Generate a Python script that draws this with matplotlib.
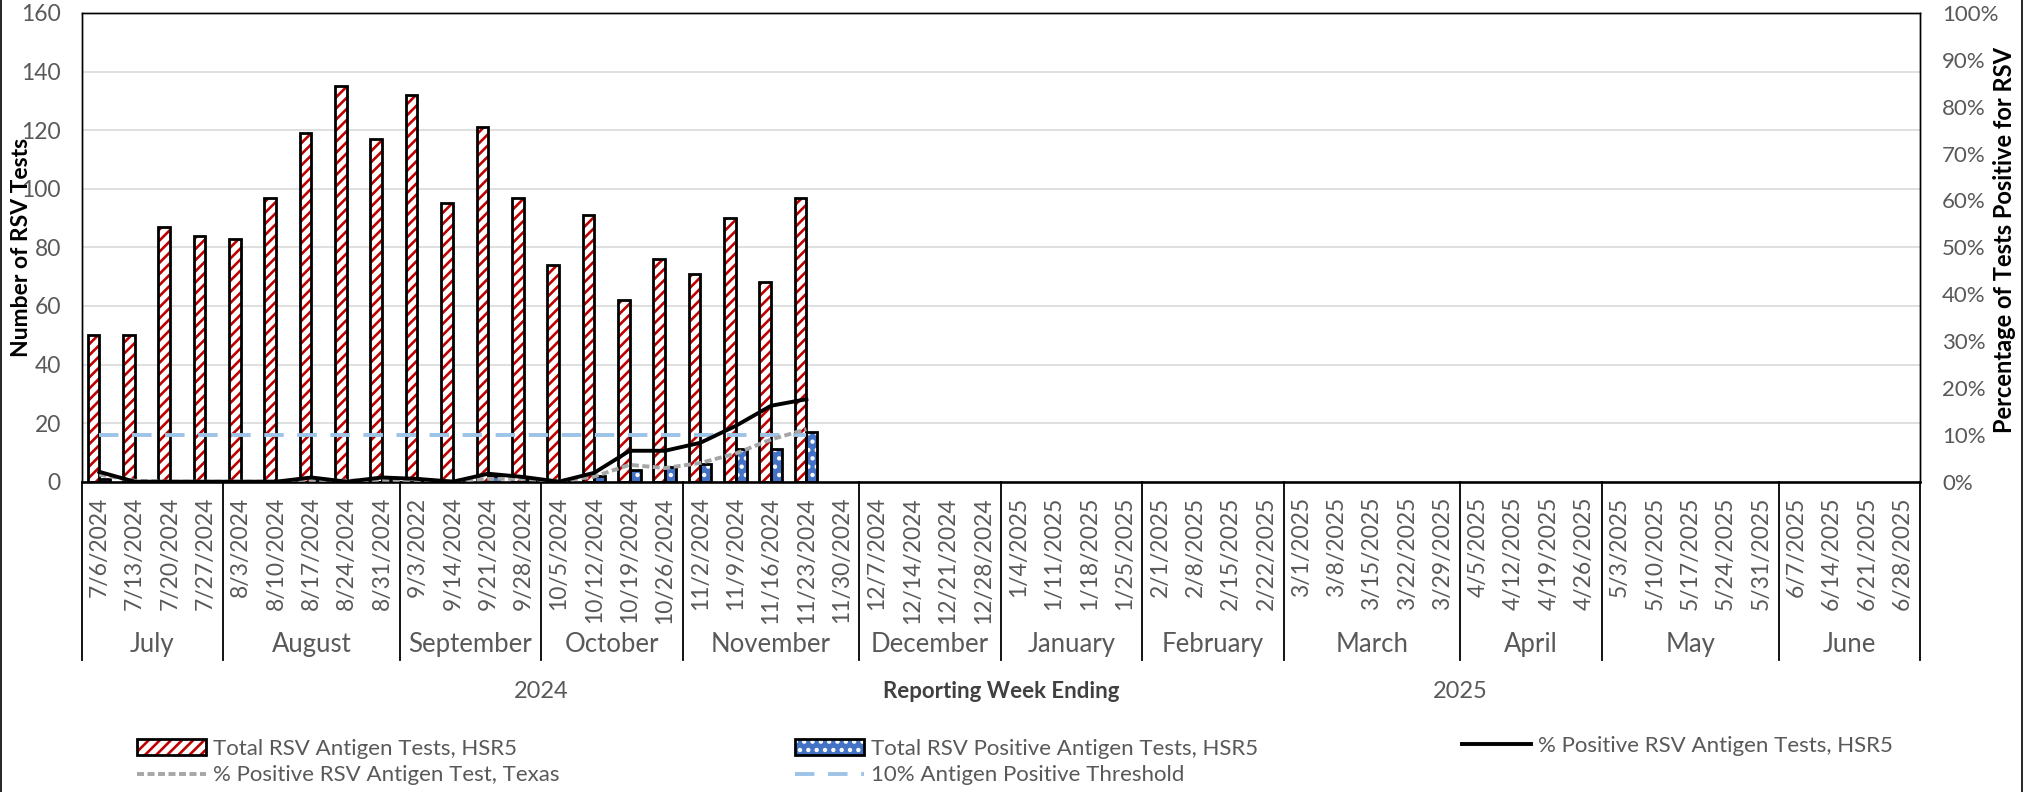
import matplotlib.pyplot as plt
from itertools import accumulate
from matplotlib.patches import Patch
from matplotlib.lines import Line2D
from matplotlib.legend_handler import HandlerTuple
from matplotlib.ticker import PercentFormatter, MultipleLocator

plt.rcParams['font.family'] = ['Lato', 'DejaVu Sans']
plt.rcParams['hatch.linewidth'] = 1.9

# ---------------------------------------------------------------- data
weeks = ['7/6/2024', '7/13/2024', '7/20/2024', '7/27/2024',
         '8/3/2024', '8/10/2024', '8/17/2024', '8/24/2024', '8/31/2024',
         '9/3/2022', '9/14/2024', '9/21/2024', '9/28/2024',
         '10/5/2024', '10/12/2024', '10/19/2024', '10/26/2024',
         '11/2/2024', '11/9/2024', '11/16/2024', '11/23/2024', '11/30/2024',
         '12/7/2024', '12/14/2024', '12/21/2024', '12/28/2024',
         '1/4/2025', '1/11/2025', '1/18/2025', '1/25/2025',
         '2/1/2025', '2/8/2025', '2/15/2025', '2/22/2025',
         '3/1/2025', '3/8/2025', '3/15/2025', '3/22/2025', '3/29/2025',
         '4/5/2025', '4/12/2025', '4/19/2025', '4/26/2025',
         '5/3/2025', '5/10/2025', '5/17/2025', '5/24/2025', '5/31/2025',
         '6/7/2025', '6/14/2025', '6/21/2025', '6/28/2025']
months = ['July', 'August', 'September', 'October', 'November', 'December',
          'January', 'February', 'March', 'April', 'May', 'June']
month_weeks = [4, 5, 4, 4, 5, 4, 4, 4, 5, 4, 5, 4]
years = ['2024', '2025']
year_weeks = [26, 26]

total_tests = [50, 50, 87, 84, 83, 97, 119, 135, 117, 132, 95, 121, 97,
               74, 91, 62, 76, 71, 90, 68, 97]
positive_tests = [1, 0, 0, 0, 0, 0, 1, 0, 1, 1, 0, 2, 1,
                  0, 2, 4, 5, 6, 11, 11, 17]
pct_hsr5 = [2.1, 0, 0, 0, 0, 0, 0.9, 0, 0.9, 0.6, 0, 1.7, 1.0,
            0, 1.9, 6.6, 6.6, 8.3, 11.9, 16.2, 17.6]
pct_texas = [1.5, 0.2, 0, 0, 0, 0, 0.3, 0.2, 0.4, 0.3, 0.1, 0.6, 0.6,
             0.1, 1.1, 3.6, 2.9, 4.0, 6.0, 9.0, 11.2]
threshold = [10, 10, 10, 10, 10, 10, 10, 10, 10, 10, 10, 10, 10,
             10, 10, 10, 10, 10, 10, 10, 10]

red = '#C00000'
blue = '#4472C4'
txt = '#595959'
lw_line = 2.8

# ---------------------------------------------------------------- figure
fig = plt.figure(figsize=(20.36, 7.92), dpi=100)
ax = fig.add_axes([0.0401, 0.3918, 0.9029, 0.5918])
ax2 = ax.twinx()

x_red = [i - 0.33 for i in range(len(total_tests))]
ax.bar(x_red, total_tests, width=0.33, align='edge', color='white',
       edgecolor=red, hatch='///', linewidth=0, zorder=2)
ax.bar(x_red, total_tests, width=0.33, align='edge', color='none',
       edgecolor='black', linewidth=2, zorder=3)
x_blue = list(range(len(positive_tests)))
ax.bar(x_blue, positive_tests, width=0.31, align='edge', color=blue,
       edgecolor='white', hatch='..', linewidth=0, zorder=2)
ax.bar(x_blue, positive_tests, width=0.31, align='edge', color='none',
       edgecolor='black', linewidth=2, zorder=3)

ax.set_xlim(-0.5, len(weeks) - 0.5)
ax.set_ylim(0, 160)
ax.yaxis.set_major_locator(MultipleLocator(20))
ax.yaxis.grid(True, color='#D9D9D9', linewidth=1.2)
ax.set_axisbelow(True)
ax.set_xticks(range(len(weeks)))
ax.set_xticklabels(weeks, rotation=90, fontsize=16.5, color=txt)
ax.tick_params(axis='x', length=0, pad=11)
ax.tick_params(axis='y', length=0, pad=15, labelsize=16.5, labelcolor=txt)
for s in ax.spines.values():
    s.set_linewidth(1.0)
ax.spines['bottom'].set_linewidth(1.8)

ax2.plot(range(len(threshold)), threshold, color='#9DC3E6', lw=lw_line,
         linestyle=(0, (5, 3.5)))
ax2.plot(range(len(pct_texas)), pct_texas, color='#A6A6A6', lw=lw_line,
         linestyle=(0, (1.8, 0.9)))
ax2.plot(range(len(pct_hsr5)), pct_hsr5, color='black', lw=lw_line)
ax2.set_ylim(0, 100)
ax2.yaxis.set_major_locator(MultipleLocator(10))
ax2.yaxis.set_major_formatter(PercentFormatter(decimals=0))
ax2.tick_params(length=0, pad=16, labelsize=16, labelcolor=txt)
for s in ax2.spines.values():
    s.set_linewidth(1.0)

# multi-level category axis
trans = ax.get_xaxis_transform()
bounds = [-0.5] + [b - 0.5 for b in accumulate(month_weeks)]
for b in bounds:
    ax.plot([b, b], [0, -0.38], transform=trans, color='black', lw=1.3,
            clip_on=False)
for m, a, b in zip(months, bounds[:-1], bounds[1:]):
    ax.text((a + b) / 2, -0.3475, m, transform=trans, ha='center',
            va='center', fontsize=18.5, color=txt)
ybounds = [-0.5] + [b - 0.5 for b in accumulate(year_weeks)]
for y, a, b in zip(years, ybounds[:-1], ybounds[1:]):
    ax.text((a + b) / 2, -0.448, y, transform=trans, ha='center',
            va='center', fontsize=17, color=txt)
ax.text(0.5, -0.448, 'Reporting Week Ending', transform=ax.transAxes,
        ha='center', va='center', fontsize=16, fontweight='bold',
        color='#404040')

fig.text(22 / 2036, 1 - 247 / 792, 'Number of RSV Tests', rotation=90,
         ha='center', va='center', fontsize=16.5, fontweight='bold')
fig.text(2005 / 2036, 1 - 240 / 792, 'Percentage of Tests Positive for RSV',
         rotation=90, ha='center', va='center', fontsize=17,
         fontweight='bold')

# legend
h_red = (Patch(facecolor='white', edgecolor=red, hatch='///', linewidth=0),
         Patch(facecolor='none', edgecolor='black', linewidth=2))
h_blue = (Patch(facecolor=blue, edgecolor='white', hatch='..', linewidth=0),
          Patch(facecolor='none', edgecolor='black', linewidth=2))
h_tx = Line2D([], [], color='#A6A6A6', lw=lw_line, linestyle=(0, (1.8, 0.9)))
h_thr = Line2D([], [], color='#9DC3E6', lw=lw_line, linestyle=(0, (5, 3.5)))
h_hsr = Line2D([], [], color='black', lw=lw_line)

leg_kw = dict(loc='center left', frameon=False, fontsize=16,
              handlelength=3.1, handletextpad=0.3, labelspacing=0.3,
              borderpad=0, borderaxespad=0, labelcolor=txt,
              handler_map={tuple: HandlerTuple(ndivide=1, pad=0)})
fig.legend([h_red, h_tx], ['Total RSV Antigen Tests, HSR5',
                           '% Positive RSV Antigen Test, Texas'],
           bbox_to_anchor=(137 / 2036, 1 - 762 / 792), **leg_kw)
fig.legend([h_blue, h_thr], ['Total RSV Positive Antigen Tests, HSR5',
                             '10% Antigen Positive Threshold'],
           bbox_to_anchor=(795 / 2036, 1 - 762 / 792), **leg_kw)
fig.legend([h_hsr], ['% Positive RSV Antigen Tests, HSR5'],
           bbox_to_anchor=(1462 / 2036, 1 - 746 / 792), **leg_kw)

# chart area border
for xb in (1 / 2036, 2022 / 2036):
    fig.add_artist(Line2D([xb, xb], [0, 1], transform=fig.transFigure,
                          color='black', lw=1.2))

fig.savefig('out.png', dpi=100)
